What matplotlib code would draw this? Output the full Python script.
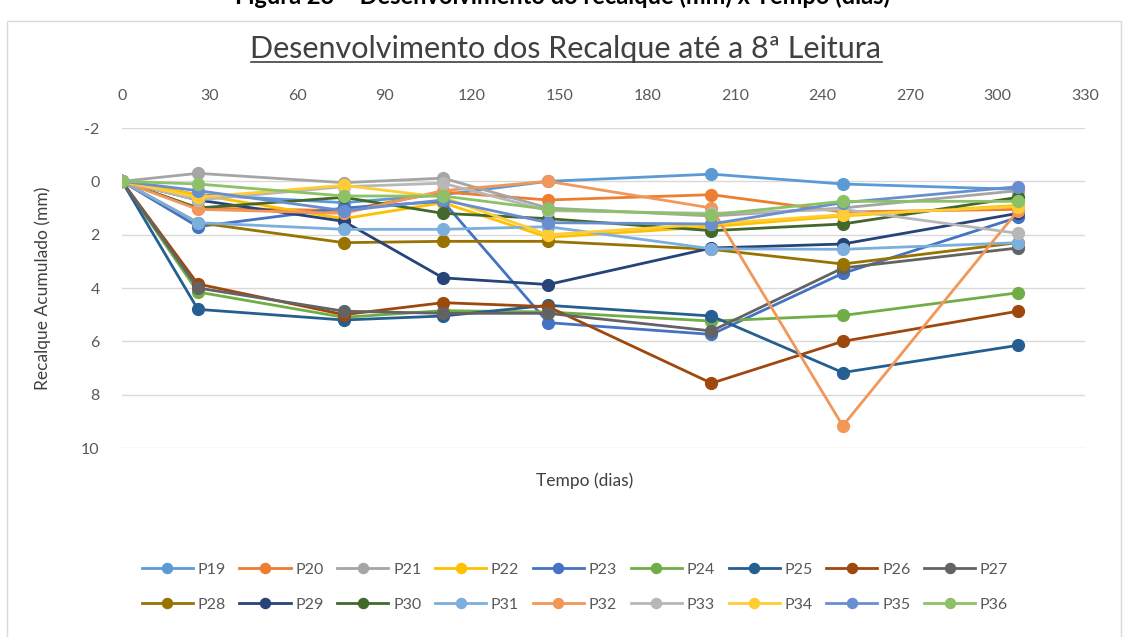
import matplotlib
matplotlib.use("Agg")
import matplotlib.pyplot as plt
from matplotlib.patches import Rectangle

plt.rcParams['font.family'] = ['Lato', 'DejaVu Sans']
plt.rcParams['axes.unicode_minus'] = False

# days of each reading
dias = [0, 26, 76, 110, 146, 202, 247, 307]

# accumulated settlement (mm) per plate
nomes = ['P19', 'P20', 'P21', 'P22', 'P23', 'P24', 'P25', 'P26', 'P27',
         'P28', 'P29', 'P30', 'P31', 'P32', 'P33', 'P34', 'P35', 'P36']

p19 = [0, 0.5, 0.8, 0.5, 0.0, -0.27, 0.1, 0.3]
p20 = [0, 1.0, 1.1, 0.4, 0.7, 0.5, 1.15, 1.05]
p21 = [0, -0.3, 0.05, -0.12, 1.0, 1.3, 1.0, 0.35]
p22 = [0, 0.5, 1.4, 0.8, 2.1, 1.7, 1.3, 0.9]
p23 = [0, 1.7, 1.0, 0.75, 5.3, 5.74, 3.45, 1.35]
p24 = [0, 4.15, 5.1, 4.85, 4.9, 5.24, 5.03, 4.18]
p25 = [0, 4.8, 5.2, 5.05, 4.65, 5.05, 7.17, 6.15]
p26 = [0, 3.85, 5.0, 4.55, 4.7, 7.57, 6.0, 4.87]
p27 = [0, 4.0, 4.87, 4.95, 4.95, 5.61, 3.25, 2.5]
p28 = [0, 1.55, 2.3, 2.25, 2.25, 2.55, 3.1, 2.3]
p29 = [0, 0.7, 1.5, 3.62, 3.87, 2.5, 2.35, 1.2]
p30 = [0, 1.0, 0.6, 1.2, 1.4, 1.85, 1.6, 0.6]
p31 = [0, 1.55, 1.8, 1.8, 1.7, 2.53, 2.55, 2.3]
p32 = [0, 1.05, 1.2, 0.35, 0.0, 1.0, 9.17, 1.1]
p33 = [0, 0.7, 0.2, 0.07, 1.1, 1.2, 1.05, 1.95]
p34 = [0, 0.6, 0.15, 0.6, 2.0, 1.6, 1.25, 0.95]
p35 = [0, 0.35, 1.1, 0.7, 1.55, 1.6, 0.8, 0.2]
p36 = [0, 0.1, 0.55, 0.55, 1.05, 1.25, 0.75, 0.75]

series = [p19, p20, p21, p22, p23, p24, p25, p26, p27,
          p28, p29, p30, p31, p32, p33, p34, p35, p36]

# excel default palette
cores = ['#5B9BD5', '#ED7D31', '#A5A5A5', '#FFC000', '#4472C4', '#70AD47',
         '#255E91', '#9E480E', '#636363', '#997300', '#264478', '#43682B',
         '#7CAFDD', '#F1975A', '#B7B7B7', '#FFCD33', '#698ED0', '#8CC168']

fig = plt.figure(figsize=(11.25, 6.37), dpi=100)

# chart border
fig.patches.append(Rectangle((7/1125, -0.01), 1114/1125, 1 - 21/637 + 0.01,
                             transform=fig.transFigure, fill=False,
                             edgecolor='#D9D9D9', lw=1))

# caption of the page, cropped at the top like in the original
fig.text(0.5, 1 - 4/637, 'Figura 23 \u2013 Desenvolvimento do recalque (mm) x Tempo (dias)',
         ha='center', va='baseline', fontsize=17, fontweight='bold', color='black')

ax = fig.add_axes([122/1125, 1 - 448/637, 963/1125, 320/637])

linhas = []
for nome, ys, c in zip(nomes, series, cores):
    l, = ax.plot(dias, ys, color=c, lw=2, marker='o', markersize=8.5, label=nome)
    linhas.append(l)

ax.set_xlim(0, 330)
ax.set_ylim(10, -2)
ax.set_xticks(range(0, 331, 30))
ax.set_yticks(range(-2, 11, 2))
ax.xaxis.tick_top()
ax.tick_params(axis='x', length=0, pad=18, labelsize=11.5, labelcolor='#595959')
ax.tick_params(axis='y', length=0, pad=16, labelsize=11.5, labelcolor='#595959')
ax.grid(axis='y', color='#D9D9D9', lw=1)
ax.set_axisbelow(True)
for s in ax.spines.values():
    s.set_visible(False)

ax.set_ylabel('Recalque Acumulado (mm)', fontsize=12.5, color='#404040', labelpad=22)

fig.text(585/1125, 1 - 481/637, 'Tempo (dias)', ha='center', va='center',
         fontsize=12.5, color='#404040')

t = fig.text(566/1125, 1 - 49/637, 'Desenvolvimento dos Recalque até a 8ª Leitura',
             ha='center', va='center', fontsize=22, color='#404040')
# underline the title
fig.canvas.draw()
bb = t.get_window_extent().transformed(fig.transFigure.inverted())
fig.add_artist(plt.Line2D([bb.x0, bb.x1], [bb.y0 + 0.002, bb.y0 + 0.002],
                          transform=fig.transFigure, color='#404040', lw=1.2))

# legend filled row by row (matplotlib fills by column)
ordem = []
for i in range(9):
    ordem += [linhas[i], linhas[i + 9]]
leg = fig.legend(handles=ordem, loc='center', bbox_to_anchor=(575/1125, 1 - 587/637),
                 ncol=9, frameon=False, fontsize=11.5, handlelength=3.2,
                 handletextpad=0.3, columnspacing=0.85, labelspacing=1.3,
                 markerscale=0.85)
for txt in leg.get_texts():
    txt.set_color('#595959')

fig.savefig('out.png', dpi=100)
